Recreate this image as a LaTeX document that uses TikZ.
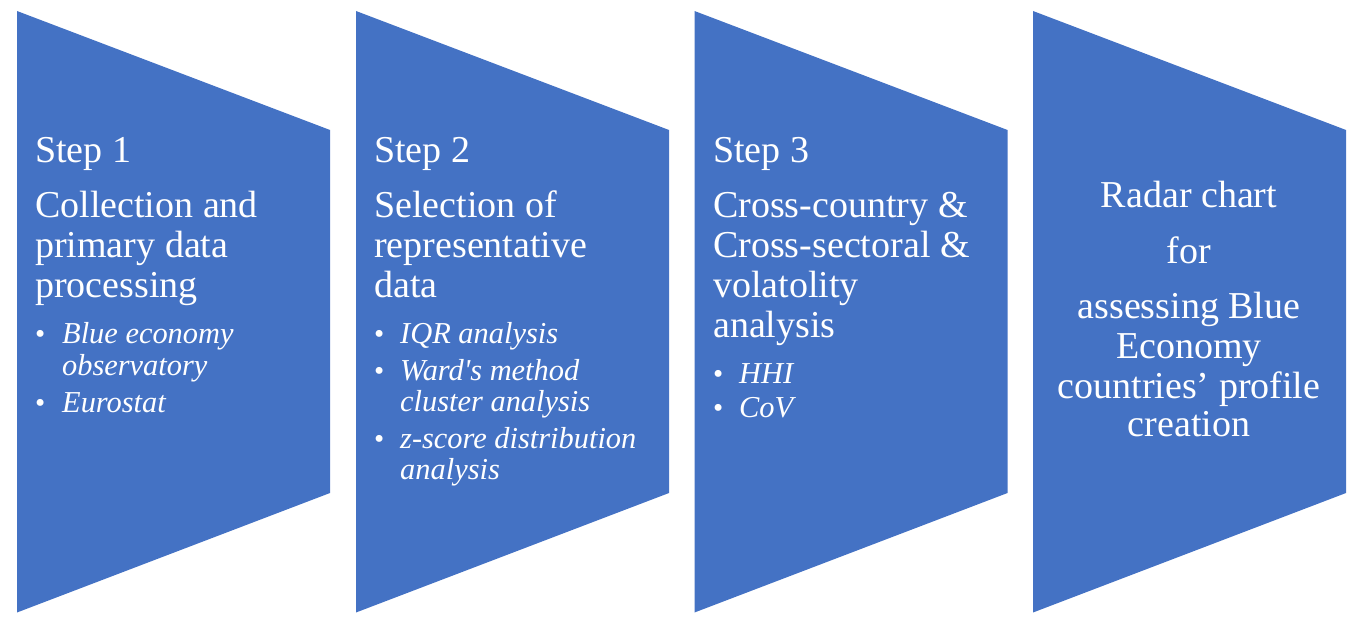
\documentclass[tikz,border=0pt]{standalone}
\usepackage{fontspec}
\setmainfont{Liberation Serif}
\definecolor{pblue}{HTML}{4472C4}
\begin{document}
\begin{tikzpicture}[x=1pt,y=-1pt,
 chev/.style={fill=pblue,draw=none},
 ttl/.style={anchor=base west,inner sep=0pt,text=white,font=\fontsize{38}{40}\selectfont},
 itm/.style={anchor=base west,inner sep=0pt,text=white,font=\fontsize{30.4}{32}\selectfont\itshape},
 bul/.style={anchor=base west,inner sep=0pt,text=white,font=\fontsize{29}{32}\selectfont},
 ctr/.style={anchor=base,inner sep=0pt,text=white,font=\fontsize{38}{40}\selectfont}]
\useasboundingbox (0,0) rectangle (1356,623);
\foreach \x in {17,356,694.5,1033}
  \fill[chev] (\x,11) -- (\x+313,130) -- (\x+313,493) -- (\x,612.5) -- cycle;
% Box 1
\node[ttl] (s1) at (35,162) {Step 1};
\node[ttl] (s1a) at (35,217) {Collection and};
\node[ttl] (s1b) at (35,257) {primary data};
\node[ttl] (s1c) at (35,297) {processing};
\node[bul] (b1a) at (35,343) {\textbullet};
\node[itm] (i1a) at (62,343) {Blue economy};
\node[itm] (i1b) at (62,375) {observatory};
\node[bul] (b1b) at (35,412) {\textbullet};
\node[itm] (i1c) at (62,412) {Eurostat};
% Box 2
\node[ttl] (s2) at (374,162) {Step 2};
\node[ttl] (s2a) at (374,217) {Selection of};
\node[ttl] (s2b) at (374,257) {representative};
\node[ttl] (s2c) at (374,297) {data};
\node[bul] (b2a) at (374,343) {\textbullet};
\node[itm] (i2a) at (400,343) {IQR analysis};
\node[bul] (b2b) at (374,380) {\textbullet};
\node[itm] (i2b) at (400,380) {Ward\textquotesingle s method};
\node[itm] (i2c) at (400,411) {cluster analysis};
\node[bul] (b2c) at (374,448) {\textbullet};
\node[itm] (i2d) at (400,448) {z-score distribution};
\node[itm] (i2e) at (400,479) {analysis};
% Box 3
\node[ttl] (s3) at (713,162) {Step 3};
\node[ttl] (s3a) at (713,217) {Cross-country \&};
\node[ttl] (s3b) at (713,257) {Cross-sectoral \&};
\node[ttl] (s3c) at (713,297) {volatolity};
\node[ttl] (s3d) at (713,337) {analysis};
\node[bul] (b3a) at (713,383) {\textbullet};
\node[itm] (i3a) at (739,383) {HHI};
\node[bul] (b3b) at (713,417) {\textbullet};
\node[itm] (i3b) at (739,417) {CoV};
% Box 4
\node[ctr] (s4a) at (1189,207) {Radar chart};
\node[ctr] (s4b) at (1189,263) {for};
\node[ctr] (s4c) at (1189,318) {assessing Blue};
\node[ctr] (s4d) at (1189,358) {Economy};
\node[ctr] (s4e) at (1189,398) {countries’ profile};
\node[ctr] (s4f) at (1189,436) {creation};
\end{tikzpicture}
\end{document}
